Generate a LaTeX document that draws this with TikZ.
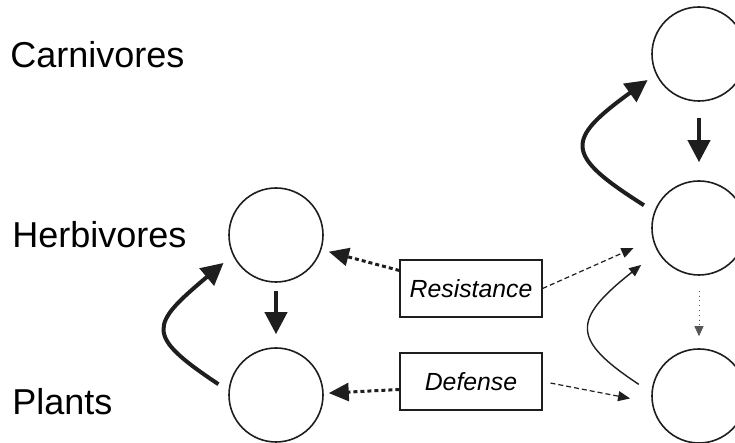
\documentclass[tikz,border=0pt]{standalone}
\usepackage{fontspec}
\setmainfont{Liberation Sans}
\usetikzlibrary{arrows.meta}
\definecolor{inkgrey}{HTML}{1E1E1E}
\definecolor{softgrey}{HTML}{555555}

\begin{document}
\begin{tikzpicture}[x=0.5pt, y=-0.5pt,
  level/.style={font=\fontsize{18}{20}\selectfont, anchor=base west, inner sep=0pt},
  pop/.style={circle, draw=inkgrey, line width=0.8pt, minimum size=47pt, inner sep=0pt},
  trait/.style={draw=inkgrey, line width=0.6pt, minimum width=71pt, minimum height=28.5pt,
                inner sep=0pt, font=\fontsize{12.4}{14}\selectfont\itshape},
  strong/.style={draw=inkgrey, line width=2pt, -{Triangle[length=11pt, width=11pt]}},
  dotty/.style={draw=inkgrey, line width=1.5pt, dash pattern=on 2pt off 1.5pt,
                -{Triangle[length=10pt, width=9pt]}},
  weak/.style={draw=inkgrey, line width=0.6pt, dash pattern=on 2.5pt off 1.5pt,
               -{Triangle[length=6pt, width=5pt]}},
  thin/.style={draw=inkgrey, line width=0.7pt, -{Triangle[length=6pt, width=5pt]}},
  faint/.style={draw=softgrey, line width=0.4pt, dotted, -{Triangle[length=5pt, width=4.5pt]}}]
  \useasboundingbox (0,0) rectangle (735,443);

  % trophic levels
  \node[level] (carnlab) at (10,68) {Carnivores};
  \node[level] (herblab) at (12,248) {Herbivores};
  \node[level] (plantlab) at (12,415) {Plants};

  % left food chain
  \node[pop] (herbL) at (276,235) {};
  \node[pop] (plantL) at (276,395) {};

  % right food chain
  \node[pop] (carnR) at (699,54) {};
  \node[pop] (herbR) at (699,228) {};
  \node[pop] (plantR) at (699,396) {};

  % traits
  \node[trait] (resist) at (471,288.5) {Resistance};
  \node[trait] (defense) at (471,381.5) {Defense};

  % left side
  \draw[strong, shorten <=4pt, shorten >=6.5pt] (herbL) -- (plantL);
  \draw[strong, shorten <=6pt, shorten >=6pt]
    (plantL.175) .. controls +(-84,-56) and +(-83,70) .. (herbL.205);
  \draw[dotty, shorten >=3.8pt] ([yshift=9pt]resist.west) -- (herbL.342);
  \draw[dotty, shorten >=2.5pt] ([yshift=-4pt]defense.west) -- (plantL.2);

  % right side
  \draw[strong, shorten <=8pt, shorten >=9pt] (carnR) -- (herbR);
  \draw[strong, shorten <=6pt, shorten >=5pt]
    (herbR.160) .. controls +(-90,-57) and +(-91,66) .. (carnR.205);
  \draw[faint, shorten <=7.5pt, shorten >=6pt] (herbR) -- (plantR);
  \draw[thin, shorten <=7.5pt, shorten >=10.5pt]
    (plantR.176) .. controls +(-80,-53) and +(-86,68) .. (herbR.210);
  \draw[weak, shorten >=10.5pt] (resist.east) -- (herbR.194);
  \draw[weak, shorten <=4pt, shorten >=11pt] (defense.east) -- (plantR.188);
\end{tikzpicture}
\end{document}
